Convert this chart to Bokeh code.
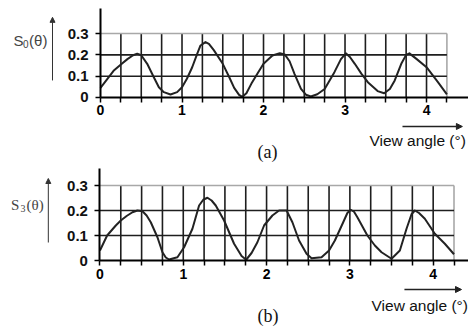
from bokeh.plotting import figure
from bokeh.models import Range1d, FixedTicker, Label, Arrow, NormalHead, LinearAxis
from bokeh.layouts import column
from bokeh.embed import file_html
from bokeh.resources import INLINE

# ---- data ----
x_a = [0.00, 0.08, 0.16, 0.25, 0.33, 0.40, 0.45, 0.50, 0.573, 0.654, 0.716, 0.777, 0.859, 0.94,
       1.00, 1.06, 1.125, 1.186, 1.227, 1.288, 1.33, 1.39, 1.50, 1.58, 1.64, 1.70, 1.74, 1.79,
       1.85, 1.93, 2.00, 2.11, 2.20, 2.26, 2.32, 2.38, 2.46, 2.52, 2.58, 2.66, 2.75, 2.87,
       2.95, 3.01, 3.06, 3.12, 3.20, 3.28, 3.40, 3.48, 3.55, 3.61, 3.69, 3.75, 3.79, 3.88,
       4.00, 4.14, 4.25]
s0 = [0.045, 0.085, 0.125, 0.155, 0.180, 0.198, 0.205, 0.198, 0.158, 0.095, 0.048, 0.025, 0.014, 0.025,
      0.048, 0.088, 0.142, 0.205, 0.244, 0.260, 0.252, 0.222, 0.158, 0.095, 0.045, 0.012, 0.003, 0.020,
      0.064, 0.115, 0.158, 0.197, 0.208, 0.202, 0.170, 0.111, 0.040, 0.013, 0.005, 0.015, 0.040, 0.119,
      0.180, 0.207, 0.190, 0.158, 0.112, 0.072, 0.030, 0.020, 0.040, 0.080, 0.158, 0.200, 0.207, 0.180,
      0.142, 0.072, 0.015]

x_b = [0.00, 0.086, 0.19, 0.25, 0.32, 0.39, 0.45, 0.51, 0.56, 0.61, 0.69, 0.75, 0.79, 0.83, 0.93,
       1.01, 1.11, 1.19, 1.24, 1.29, 1.34, 1.39, 1.49, 1.61, 1.70, 1.755, 1.82, 1.89, 1.97, 2.07,
       2.15, 2.24, 2.31, 2.39, 2.48, 2.54, 2.66, 2.75, 2.82, 2.92, 2.97, 3.01, 3.05, 3.09, 3.21,
       3.30, 3.38, 3.50, 3.60, 3.68, 3.74, 3.78, 3.83, 3.90, 4.02, 4.14, 4.25]
s3 = [0.040, 0.100, 0.140, 0.160, 0.178, 0.193, 0.200, 0.197, 0.180, 0.153, 0.093, 0.033, 0.012, 0.004, 0.013,
      0.053, 0.127, 0.220, 0.243, 0.251, 0.240, 0.220, 0.160, 0.067, 0.018, 0.003, 0.030, 0.073, 0.140, 0.180,
      0.200, 0.200, 0.153, 0.080, 0.027, 0.009, 0.013, 0.040, 0.080, 0.153, 0.190, 0.203, 0.195, 0.173, 0.100,
      0.060, 0.033, 0.007, 0.040, 0.127, 0.185, 0.200, 0.190, 0.167, 0.107, 0.067, 0.025]

x_ticks = [0, 1, 2, 3, 4]
x_minor = [0.25, 0.5, 0.75, 1.25, 1.5, 1.75, 2.25, 2.5, 2.75, 3.25, 3.5, 3.75, 4.25]
x_grid = [0.25, 0.5, 0.75, 1.0, 1.25, 1.5, 1.75, 2.0, 2.25, 2.5, 2.75, 3.0, 3.25, 3.5, 3.75, 4.0]
x_grid_end = 4.25
y_ticks = [0, 0.1, 0.2, 0.3]
y_tick_labels = ["0", "0.1", "0.2", "0.3"]
y_grid = [0.1, 0.2]
y_grid_top = 0.3
x_label = "View angle (°)"

SANS = "Liberation Sans"
SERIF = "Liberation Serif"


def make_panel(xs, ys, xr, yr, h, ytop, sym, sub, label_font, tag, geo):
    p = figure(width=468, height=h, output_backend="svg", toolbar_location=None,
               x_range=Range1d(*xr), y_range=Range1d(*yr),
               x_axis_location=None, y_axis_location=None,
               min_border=0, min_border_left=0, min_border_right=0,
               min_border_top=0, min_border_bottom=0)
    p.outline_line_color = None
    p.background_fill_color = "white"

    dark = "#1e1e1e"
    light = "#a8a8a8"
    # grid
    p.segment(x0=x_grid, y0=[0] * len(x_grid), x1=x_grid, y1=[y_grid_top] * len(x_grid),
              line_color=dark, line_width=1.6)
    p.segment(x0=[x_grid_end], y0=[0], x1=[x_grid_end], y1=[y_grid_top], line_color=light, line_width=1.6)
    p.segment(x0=[0] * len(y_grid), y0=y_grid, x1=[x_grid_end] * len(y_grid), y1=y_grid,
              line_color=dark, line_width=1.6)
    p.segment(x0=[0], y0=[y_grid_top], x1=[x_grid_end], y1=[y_grid_top], line_color=light, line_width=1.6)

    p.line(xs, ys, line_color="#222222", line_width=2.0, line_join="round")

    xa = LinearAxis(fixed_location=0, bounds=(0, xr[1]))
    xa.ticker = FixedTicker(ticks=x_ticks, minor_ticks=x_minor)
    xa.axis_line_width = 2
    xa.axis_line_color = "black"
    xa.major_tick_out = 5
    xa.major_tick_in = 0
    xa.minor_tick_out = 5
    xa.minor_tick_in = 0
    xa.major_tick_line_width = 1.5
    xa.minor_tick_line_width = 1.5
    xa.major_label_text_font = SANS
    xa.major_label_text_font_style = "bold"
    xa.major_label_text_font_size = "14px"
    xa.major_label_text_color = "black"
    xa.major_label_standoff = 3
    p.add_layout(xa, "below")

    ya = LinearAxis(fixed_location=0, bounds=(0, ytop))
    ya.ticker = FixedTicker(ticks=y_ticks)
    ya.major_label_overrides = {t: l for t, l in zip(y_ticks, y_tick_labels)}
    ya.axis_line_width = 2
    ya.axis_line_color = "black"
    ya.major_tick_out = 5
    ya.major_tick_in = 0
    ya.major_tick_line_width = 1.5
    ya.minor_tick_line_color = None
    ya.major_label_text_font = SANS
    ya.major_label_text_font_style = "bold"
    ya.major_label_text_font_size = "15px"
    ya.major_label_text_color = "#111111"
    ya.major_label_standoff = 7
    p.add_layout(ya, "left")
    p.xgrid.visible = False
    p.ygrid.visible = False

    # y-axis symbol with subscript
    lx, ly = geo["ylab"]
    p.add_layout(Label(x=lx, y=ly, text=sym, text_font=label_font, text_font_size="15px",
                       text_align="left", text_baseline="middle"))
    p.add_layout(Label(x=lx, y=ly, text=sub, text_font=label_font, text_font_size="10px",
                       text_align="left", text_baseline="middle", x_offset=9.5, y_offset=-4))
    p.add_layout(Label(x=lx, y=ly, text="(θ)", text_font=label_font, text_font_size="15px",
                       text_align="left", text_baseline="middle", x_offset=15.5))
    ax, ay0, ay1 = geo["yarrow"]
    p.add_layout(Arrow(x_start=ax, y_start=ay0, x_end=ax, y_end=ay1, line_width=1,
                       line_color="#333333",
                       end=NormalHead(size=5, line_color="#333333", fill_color="#333333")))
    # x label with arrow
    hx0, hx1, hy = geo["xarrow"]
    p.add_layout(Arrow(x_start=hx0, y_start=hy, x_end=hx1, y_end=hy, line_width=1.5,
                       line_color="#222222",
                       end=NormalHead(size=6, line_color="#222222", fill_color="#222222")))
    tx, ty = geo["xlab"]
    p.add_layout(Label(x=tx, y=ty, text=x_label, text_font=SANS, text_font_size="15.5px",
                       text_align="left", text_baseline="middle", text_color="#111111"))
    cx, cy = geo["tag"]
    p.add_layout(Label(x=cx, y=cy, text=tag, text_font=SERIF, text_font_size="18px",
                       text_align="center", text_baseline="middle", text_color="#111111"))
    return p


geo_a = dict(ylab=(-1.067, 0.268), yarrow=(-0.589, 0.08, 0.376),
             xarrow=(3.705, 4.44, -0.136), xlab=(3.30, -0.202), tag=(2.05, -0.258))
geo_b = dict(ylab=(-1.068, 0.224), yarrow=(-0.62, 0.072, 0.328),
             xarrow=(3.655, 4.34, -0.116), xlab=(3.26, -0.18), tag=(2.017, -0.22))

p1 = make_panel(x_a, s0, (-1.227, 4.515), (-0.319, 0.455), 165, 0.417, "S", "0", SANS, "(a)", geo_a)
p2 = make_panel(x_b, s3, (-1.194, 4.424), (-0.276, 0.38), 164, 0.368, "S", "3", SERIF, "(b)", geo_b)

lay = column(p1, p2, spacing=0)
open("out.html", "w").write(file_html(lay, INLINE))
